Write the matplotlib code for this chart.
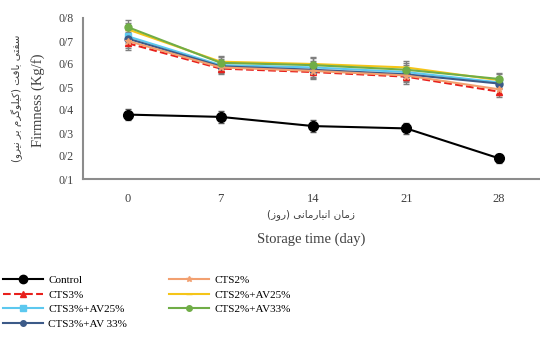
import numpy as np
import matplotlib.pyplot as plt
from matplotlib.lines import Line2D

# storage days and firmness (kg/f)
days = [0, 7, 14, 21, 28]
control = [0.38, 0.37, 0.33, 0.32, 0.19]
cts3 = [0.69, 0.58, 0.565, 0.545, 0.48]
cts3_av25 = [0.72, 0.595, 0.585, 0.565, 0.52]
cts3_av33 = [0.71, 0.59, 0.575, 0.555, 0.515]
cts2 = [0.70, 0.585, 0.57, 0.55, 0.49]
cts2_av25 = [0.75, 0.61, 0.60, 0.585, 0.53]
cts2_av33 = [0.76, 0.605, 0.595, 0.575, 0.535]
err_control = [0.025, 0.025, 0.025, 0.025, 0.02]
err_treat = [0.03, 0.025, 0.03, 0.03, 0.025]

yticks = [0.1, 0.2, 0.3, 0.4, 0.5, 0.6, 0.7, 0.8]
ytick_labels = ["0/1", "0/2", "0/3", "0/4", "0/5", "0/6", "0/7", "0/8"]

ylabel_fa = "سفتی بافت (کیلوگرم بر نیرو)"
xlabel_fa = "زمان انبارمانی (روز)"


# matplotlib does no arabic shaping, so pick presentation forms by hand
FORMS = {
    "ا": ("\ufe8d", "\ufe8e", None, None),
    "ب": ("\ufe8f", "\ufe90", "\ufe91", "\ufe92"),
    "ت": ("\ufe95", "\ufe96", "\ufe97", "\ufe98"),
    "س": ("\ufeb1", "\ufeb2", "\ufeb3", "\ufeb4"),
    "ف": ("\ufed1", "\ufed2", "\ufed3", "\ufed4"),
    "ل": ("\ufedd", "\ufede", "\ufedf", "\ufee0"),
    "م": ("\ufee1", "\ufee2", "\ufee3", "\ufee4"),
    "ن": ("\ufee5", "\ufee6", "\ufee7", "\ufee8"),
    "و": ("\ufeed", "\ufeee", None, None),
    "ر": ("\ufead", "\ufeae", None, None),
    "ز": ("\ufeaf", "\ufeb0", None, None),
    "ی": ("\ufbfc", "\ufbfd", "\ufbfe", "\ufbff"),
    "ک": ("\ufb8e", "\ufb8f", "\ufb90", "\ufb91"),
    "گ": ("\ufb92", "\ufb93", "\ufb94", "\ufb95"),
}


def shape_fa(text):
    out = []
    for i, ch in enumerate(text):
        if ch not in FORMS:
            out.append(ch)
            continue
        prev = text[i - 1] if i > 0 else ""
        nxt = text[i + 1] if i + 1 < len(text) else ""
        join_prev = prev in FORMS and FORMS[prev][2] is not None
        join_next = nxt in FORMS and FORMS[ch][2] is not None
        iso, fin, ini, med = FORMS[ch]
        if join_prev and join_next:
            out.append(med)
        elif join_prev:
            out.append(fin)
        elif join_next:
            out.append(ini)
        else:
            out.append(iso)
    vis = "".join(reversed(out))
    return vis.translate(str.maketrans("()", ")("))


serif = ["Liberation Serif", "DejaVu Serif"]
fa_font = ["DejaVu Sans"]
grey = "#404040"

fig = plt.figure(figsize=(5.4, 3.38), dpi=100)
ax = fig.add_axes([83 / 540, 1 - 179 / 338, (540 - 83) / 540, (179 - 18) / 338])

series = [
    ("Control", control, err_control, "black", "-", "o", 7),
    ("CTS3%", cts3, err_treat, "#e8201c", "--", "^", 5),
    ("CTS3%+AV25%", cts3_av25, err_treat, "#5cc8ef", "-", "s", 5),
    ("CTS3%+AV 33%", cts3_av33, err_treat, "#3c5a88", "-", "o", 5),
    ("CTS2%", cts2, err_treat, "#f2a070", "-", "*", 5),
    ("CTS2%+AV25%", cts2_av25, err_treat, "#f5c518", "-", "_", 5),
    ("CTS2%+AV33%", cts2_av33, err_treat, "#70ad47", "-", "o", 5),
]

handles = []
for name, vals, err, col, ls, mk, ms in series:
    ax.errorbar(days, vals, yerr=err, color=col, ls=ls, lw=1.5, marker=mk, ms=ms,
                ecolor="#7f7f7f" if name != "Control" else "#555555",
                elinewidth=1, capsize=2)
    handles.append(Line2D([], [], color=col, ls=ls, lw=1.5, marker=mk, ms=ms - 1, label=name))

ax.set_xlim(-3.4, 31.1)
ax.set_ylim(0.1, 0.8)
ax.set_xticks(days)
ax.set_xticklabels([str(d) for d in days], family=serif, fontsize=9, color=grey)
ax.set_yticks(yticks)
ax.set_yticklabels(ytick_labels, family=serif, fontsize=8.5, color=grey)
ax.tick_params(axis="x", length=0, pad=10)
ax.tick_params(axis="y", length=0, pad=7)
for s in ["top", "right"]:
    ax.spines[s].set_visible(False)
for s in ["left", "bottom"]:
    ax.spines[s].set_color("#8c8c8c")
    ax.spines[s].set_linewidth(1.5)

fig.text(311 / 540, 1 - 215 / 338, shape_fa(xlabel_fa), family=fa_font, fontsize=7.5,
         color=grey, ha="center", va="center")
fig.text(311 / 540, 1 - 239 / 338, "Storage time (day)", family=serif, fontsize=10.5,
         color=grey, ha="center", va="center")
fig.text(17 / 540, 1 - 98 / 338, shape_fa(ylabel_fa), family=fa_font, fontsize=7.5,
         color=grey, ha="center", va="center", rotation=90)
fig.text(38 / 540, 1 - 100 / 338, "Firmness (Kg/f)", family=serif, fontsize=10.5,
         color=grey, ha="center", va="center", rotation=90)

fig.legend(handles=handles, ncol=2, loc="upper left", bbox_to_anchor=(0.005, 1 - 275 / 338),
           frameon=False, prop={"family": serif, "size": 8}, handlelength=3.6,
           labelspacing=0.45, columnspacing=3.8, handletextpad=0.5, borderaxespad=0,
           borderpad=0)

fig.savefig("out.png", dpi=100)
